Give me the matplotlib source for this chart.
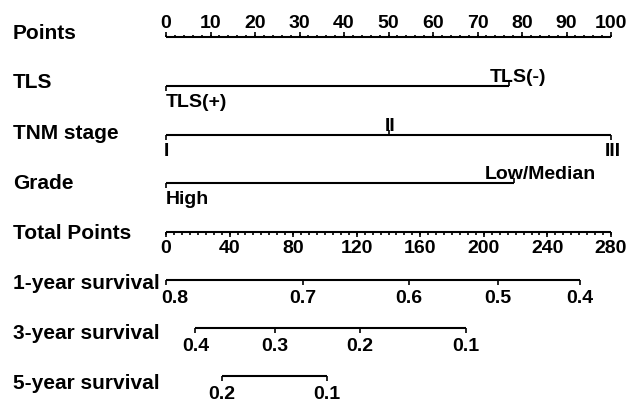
import matplotlib
matplotlib.use('Agg')
import matplotlib.pyplot as plt
import numpy as np

plt.rcParams['font.family'] = ['Liberation Sans', 'DejaVu Sans']

# ---------------- data ----------------
row_names = ['Points', 'TLS', 'TNM stage', 'Grade', 'Total Points',
             '1-year survival', '3-year survival', '5-year survival']

points_major = np.arange(0, 101, 10)
points_minor = np.arange(0, 101, 2)

tls_labels = ['TLS(+)', 'TLS(-)']
tls_points = [0, 77.1]
tnm_labels = ['I', 'II', 'III']
tnm_points = [0, 50, 100]
grade_labels = ['High', 'Low/Median']
grade_points = [0, 78.2]

total_max = 280
total_major = np.arange(0, 281, 40)
total_minor = np.arange(0, 281, 5)

surv1_labels = ['0.8', '0.7', '0.6', '0.5', '0.4']
surv1_total = [0, 86.2, 152.9, 208.9, 260.5]
surv3_labels = ['0.4', '0.3', '0.2', '0.1']
surv3_total = [18.2, 68.6, 122.0, 188.8]
surv5_labels = ['0.2', '0.1']
surv5_total = [35.2, 101.3]

# ---------------- layout (pixels) ----------------
W, H = 632, 402
X0, X1 = 166, 611
row_y = [38, 87, 136, 184, 233, 281, 329, 377]
name_base = [39, 88, 139, 189, 239, 289, 339, 389]
name_x = 13
FS_NAME = 15
FS_TICK = 14
LW = 1.5
LWT = 1.2

fig = plt.figure(figsize=(W / 100, H / 100), dpi=100)
ax = fig.add_axes([0, 0, 1, 1])
scale = (X1 - X0) / 100.0
ax.set_xlim(-X0 / scale, (W - X0) / scale)
ax.set_ylim(H, 0)
ax.axis('off')


def px(d):
    return d / scale


def txt(x, y, s, ha='center', fs=FS_TICK):
    ax.text(x, y, s, ha=ha, va='baseline', fontsize=fs, fontweight='bold',
            color='black')


# row names
for name, yb in zip(row_names, name_base):
    txt(px(name_x - X0), yb, name, ha='left', fs=FS_NAME)

# Points axis
y = row_y[0]
ax.hlines(y, points_major[0], points_major[-1], color='black', lw=LW)
ax.vlines(points_minor, y, y - 2.5, color='black', lw=LWT)
ax.vlines(points_major, y, y - 5, color='black', lw=LWT)
for v in points_major:
    txt(v, y - 10, str(v))


# categorical rows
def cat_row(y, labels, pts, above, dx):
    ax.hlines(y, min(pts), max(pts), color='black', lw=LW)
    for lab, p, up, d in zip(labels, pts, above, dx):
        if up:
            ax.vlines(p, y, y - 5, color='black', lw=LWT)
            txt(p + px(d[0]), y - 5, lab, ha=d[1])
        else:
            ax.vlines(p, y, y + 5, color='black', lw=LWT)
            txt(p + px(d[0]), y + 20, lab, ha=d[1])


cat_row(row_y[1], tls_labels, tls_points, [False, True],
        [(0, 'left'), (9, 'center')])
cat_row(row_y[2], tnm_labels, tnm_points, [False, True, False],
        [(0, 'center'), (2, 'center'), (2, 'center')])
cat_row(row_y[3], grade_labels, grade_points, [False, True],
        [(0, 'left'), (26, 'center')])

# Total points axis
y = row_y[4]
f = 100.0 / total_max
ax.hlines(y, 0, total_max * f, color='black', lw=LW)
ax.vlines(total_minor * f, y, y + 2.5, color='black', lw=LWT)
ax.vlines(total_major * f, y, y + 5, color='black', lw=LWT)
for v in total_major:
    txt(v * f, y + 20, str(v))


# survival axes
def surv_row(y, labels, tps, dx):
    xs = [t * f for t in tps]
    ax.hlines(y, min(xs), max(xs), color='black', lw=LW)
    ax.vlines(xs, y, y + 5, color='black', lw=LWT)
    for lab, xv, d in zip(labels, xs, dx):
        txt(xv + px(d), y + 22, lab)


surv_row(row_y[5], surv1_labels, surv1_total, [9, 0, 0, 0, 0])
surv_row(row_y[6], surv3_labels, surv3_total, [1, 0, 0, 0])
surv_row(row_y[7], surv5_labels, surv5_total, [0, 0])

fig.savefig('out.png', dpi=100)
